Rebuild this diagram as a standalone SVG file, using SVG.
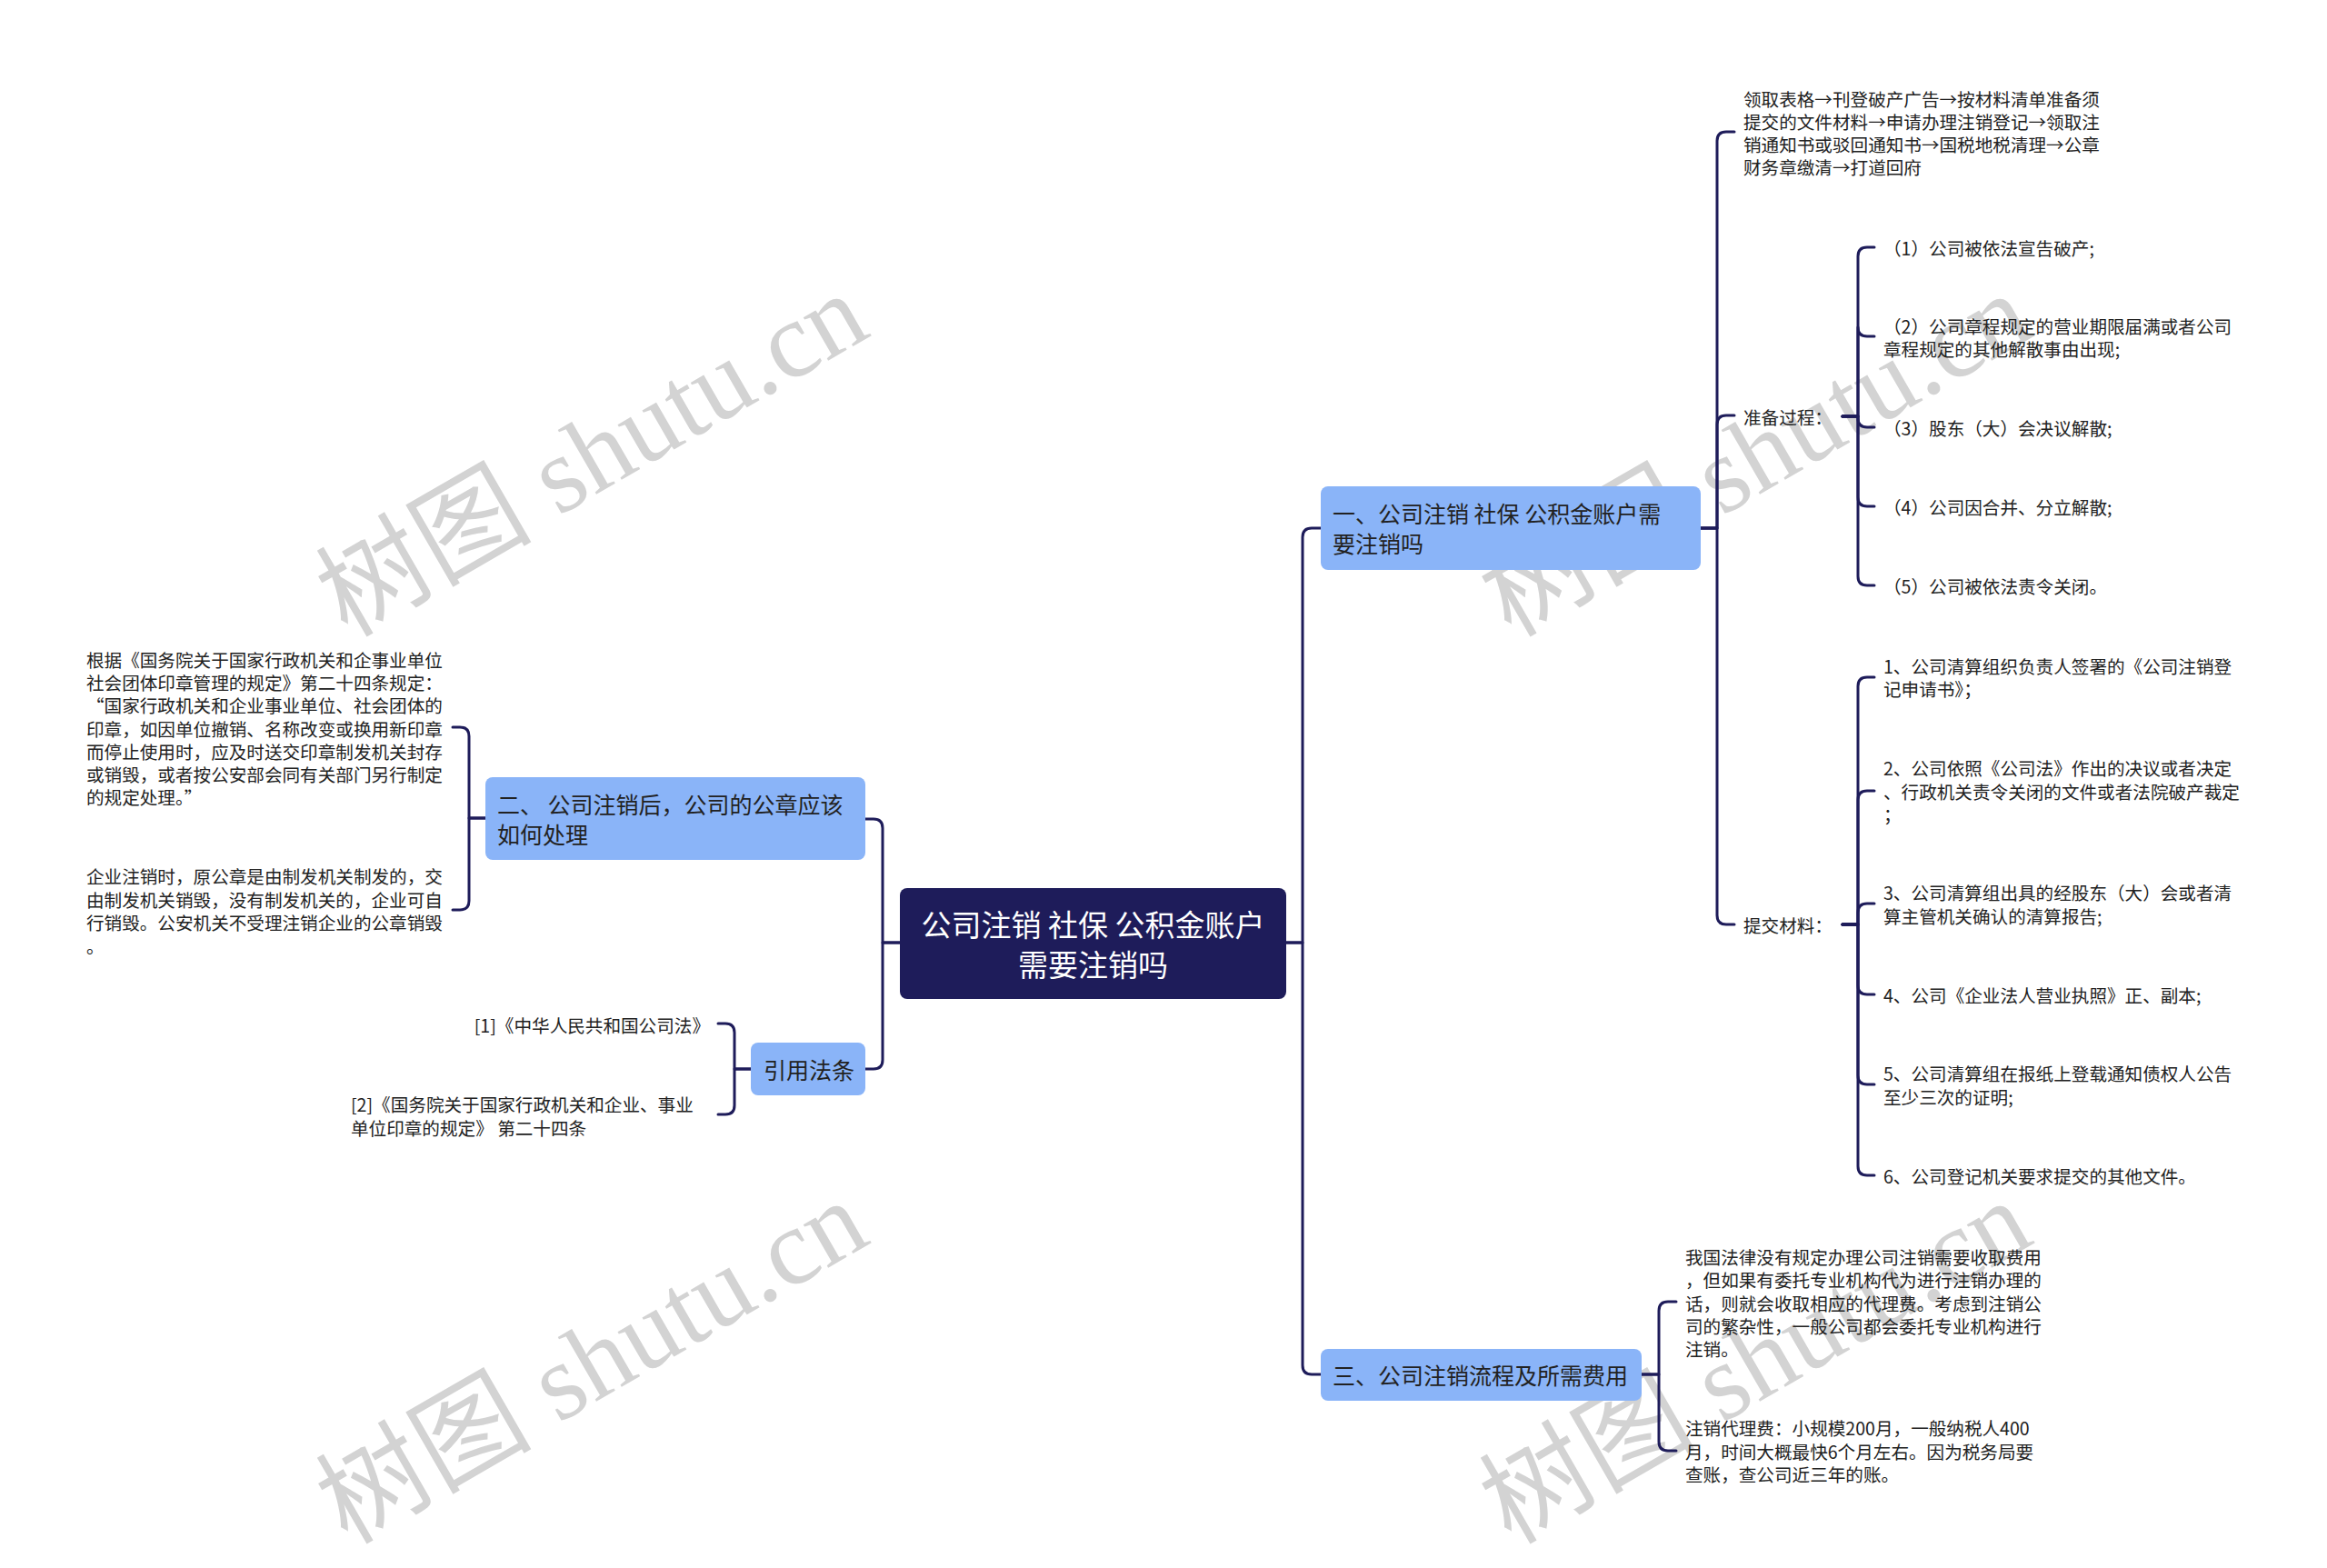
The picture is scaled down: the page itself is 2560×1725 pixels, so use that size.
<svg xmlns="http://www.w3.org/2000/svg" width="2560" height="1725" viewBox="0 0 2560 1725">
<style>
text{font-family:"Noto Sans CJK SC","Noto Sans",sans-serif;dominant-baseline:central}
.wm text{font-family:"Liberation Serif","Noto Sans CJK SC",serif;font-size:119px;fill:#d3d3d3;dominant-baseline:alphabetic}
.conn path{fill:none;stroke:#1e1c5a;stroke-width:3;stroke-linecap:round;stroke-linejoin:round}
.root rect{fill:#1e1c5a}
.root text{fill:#ffffff;font-size:33px;text-anchor:middle}
.branch rect{fill:#8ab4f8}
.branch text{fill:#222;font-size:25px}
.leaf text{fill:#222;font-size:19.6px}
</style>
<rect width="2560" height="1725" fill="#ffffff"/>
<g class="wm">
<text transform="translate(382,702) rotate(-30)">树图 shutu.cn</text>
<text transform="translate(1662,702) rotate(-30)">树图 shutu.cn</text>
<text transform="translate(382,1700) rotate(-30)">树图 shutu.cn</text>
<text transform="translate(1662,1700) rotate(-30)">树图 shutu.cn</text>
</g>
<g class="conn" id="connectors">
<path d="M1415 1037 H1433 V591 Q1433 581 1443 581 H1453"/>
<path d="M1415 1037 H1433 V1502 Q1433 1512 1443 1512 H1453"/>
<path d="M990 1037 H971 V911 Q971 901 961 901 H952"/>
<path d="M990 1037 H971 V1166 Q971 1176 961 1176 H952"/>
<path d="M1871 581 H1889 V155 Q1889 145 1899 145 H1908"/>
<path d="M1871 581 H1889 V467 Q1889 457 1899 457 H1908"/>
<path d="M1871 581 H1889 V1007 Q1889 1017 1899 1017 H1908"/>
<path d="M2027 458 H2044 V282 Q2044 272 2054 272 H2062"/>
<path d="M2027 458 H2044 V360 Q2044 370 2054 370 H2062"/>
<path d="M2027 458 H2044 V460 Q2044 470 2054 470 H2062"/>
<path d="M2027 458 H2044 V547 Q2044 557 2054 557 H2062"/>
<path d="M2027 458 H2044 V634 Q2044 644 2054 644 H2062"/>
<path d="M2027 1017 H2044 V755 Q2044 745 2054 745 H2062"/>
<path d="M2027 1017 H2044 V880 Q2044 870 2054 870 H2062"/>
<path d="M2027 1017 H2044 V1004 Q2044 994 2054 994 H2062"/>
<path d="M2027 1017 H2044 V1084 Q2044 1094 2054 1094 H2062"/>
<path d="M2027 1017 H2044 V1183 Q2044 1193 2054 1193 H2062"/>
<path d="M2027 1017 H2044 V1283 Q2044 1293 2054 1293 H2062"/>
<path d="M1806 1512 H1825 V1442 Q1825 1432 1835 1432 H1844"/>
<path d="M1806 1512 H1825 V1586 Q1825 1596 1835 1596 H1844"/>
<path d="M534 900 H516 V810 Q516 800 506 800 H498"/>
<path d="M534 900 H516 V991 Q516 1001 506 1001 H498"/>
<path d="M826 1176 H808 V1136 Q808 1126 798 1126 H790"/>
<path d="M826 1176 H808 V1216 Q808 1226 798 1226 H790"/>
</g>
<g class="root" id="root">
<rect x="990" y="977" width="425" height="122" rx="8"/>
<text x="1202.5" y="1016">公司注销 社保 公积金账户<tspan x="1202.5" dy="44">需要注销吗</tspan></text>
</g>
<g class="branch" id="b1">
<rect x="1453" y="535" width="418" height="92" rx="8"/>
<text x="1466" y="564">一、公司注销 社保 公积金账户需<tspan x="1466" dy="33">要注销吗</tspan></text>
</g>
<g class="branch" id="b2">
<rect x="534" y="855" width="418" height="91" rx="8"/>
<text x="547" y="884">二、 公司注销后，公司的公章应该<tspan x="547" dy="33">如何处理</tspan></text>
</g>
<g class="branch" id="b3">
<rect x="1453" y="1484" width="353" height="57" rx="8"/>
<text x="1466" y="1512">三、公司注销流程及所需费用</text>
</g>
<g class="branch" id="b4">
<rect x="826" y="1147" width="126" height="58" rx="8"/>
<text x="840" y="1176">引用法条</text>
</g>
<g class="leaf" id="l1">
<text x="1918" y="108">领取表格→刊登破产广告→按材料清单准备须<tspan x="1918" dy="25">提交的文件材料→申请办理注销登记→领取注</tspan><tspan x="1918" dy="25">销通知书或驳回通知书→国税地税清理→公章</tspan><tspan x="1918" dy="25">财务章缴清→打道回府</tspan></text>
</g>
<g class="leaf" id="l2"><text x="1918" y="458">准备过程：</text></g>
<g class="leaf" id="l2a"><text x="2072" y="272">（1）公司被依法宣告破产;</text></g>
<g class="leaf" id="l2b"><text x="2072" y="358">（2）公司章程规定的营业期限届满或者公司<tspan x="2072" dy="25">章程规定的其他解散事由出现;</tspan></text></g>
<g class="leaf" id="l2c"><text x="2072" y="470">（3）股东（大）会决议解散;</text></g>
<g class="leaf" id="l2d"><text x="2072" y="557">（4）公司因合并、分立解散;</text></g>
<g class="leaf" id="l2e"><text x="2072" y="644">（5）公司被依法责令关闭。</text></g>
<g class="leaf" id="l3"><text x="1918" y="1017">提交材料：</text></g>
<g class="leaf" id="l3a"><text x="2072" y="732">1、公司清算组织负责人签署的《公司注销登<tspan x="2072" dy="25">记申请书》；</tspan></text></g>
<g class="leaf" id="l3b"><text x="2072" y="844">2、公司依照《公司法》作出的决议或者决定<tspan x="2072" dy="25.5">、行政机关责令关闭的文件或者法院破产裁定</tspan><tspan x="2072" dy="25.5">；</tspan></text></g>
<g class="leaf" id="l3c"><text x="2072" y="981">3、公司清算组出具的经股东（大）会或者清<tspan x="2072" dy="25.5">算主管机关确认的清算报告;</tspan></text></g>
<g class="leaf" id="l3d"><text x="2072" y="1094">4、公司《企业法人营业执照》正、副本;</text></g>
<g class="leaf" id="l3e"><text x="2072" y="1180">5、公司清算组在报纸上登载通知债权人公告<tspan x="2072" dy="25.5">至少三次的证明;</tspan></text></g>
<g class="leaf" id="l3f"><text x="2072" y="1293">6、公司登记机关要求提交的其他文件。</text></g>
<g class="leaf" id="l4">
<text x="1854" y="1382">我国法律没有规定办理公司注销需要收取费用<tspan x="1854" dy="25.3">，但如果有委托专业机构代为进行注销办理的</tspan><tspan x="1854" dy="25.3">话，则就会收取相应的代理费。考虑到注销公</tspan><tspan x="1854" dy="25.3">司的繁杂性，一般公司都会委托专业机构进行</tspan><tspan x="1854" dy="25.3">注销。</tspan></text>
</g>
<g class="leaf" id="l5">
<text x="1854" y="1570">注销代理费：小规模200月，一般纳税人400<tspan x="1854" dy="25.5">月，时间大概最快6个月左右。因为税务局要</tspan><tspan x="1854" dy="25.5">查账，查公司近三年的账。</tspan></text>
</g>
<g class="leaf" id="l6">
<text x="95" y="725">根据《国务院关于国家行政机关和企事业单位<tspan x="95" dy="25.2">社会团体印章管理的规定》第二十四条规定：</tspan><tspan x="95" dy="25.2">“国家行政机关和企业事业单位、社会团体的</tspan><tspan x="95" dy="25.2">印章，如因单位撤销、名称改变或换用新印章</tspan><tspan x="95" dy="25.2">而停止使用时，应及时送交印章制发机关封存</tspan><tspan x="95" dy="25.2">或销毁，或者按公安部会同有关部门另行制定</tspan><tspan x="95" dy="25.2">的规定处理。”</tspan></text>
</g>
<g class="leaf" id="l7">
<text x="95" y="963">企业注销时，原公章是由制发机关制发的，交<tspan x="95" dy="25.5">由制发机关销毁，没有制发机关的，企业可自</tspan><tspan x="95" dy="25.5">行销毁。公安机关不受理注销企业的公章销毁</tspan><tspan x="95" dy="26">。</tspan></text>
</g>
<g class="leaf" id="l8"><text x="781" y="1127" text-anchor="end">[1]《中华人民共和国公司法》</text></g>
<g class="leaf" id="l9">
<text x="386" y="1214">[2]《国务院关于国家行政机关和企业、事业<tspan x="386" dy="26">单位印章的规定》 第二十四条</tspan></text>
</g>
</svg>
